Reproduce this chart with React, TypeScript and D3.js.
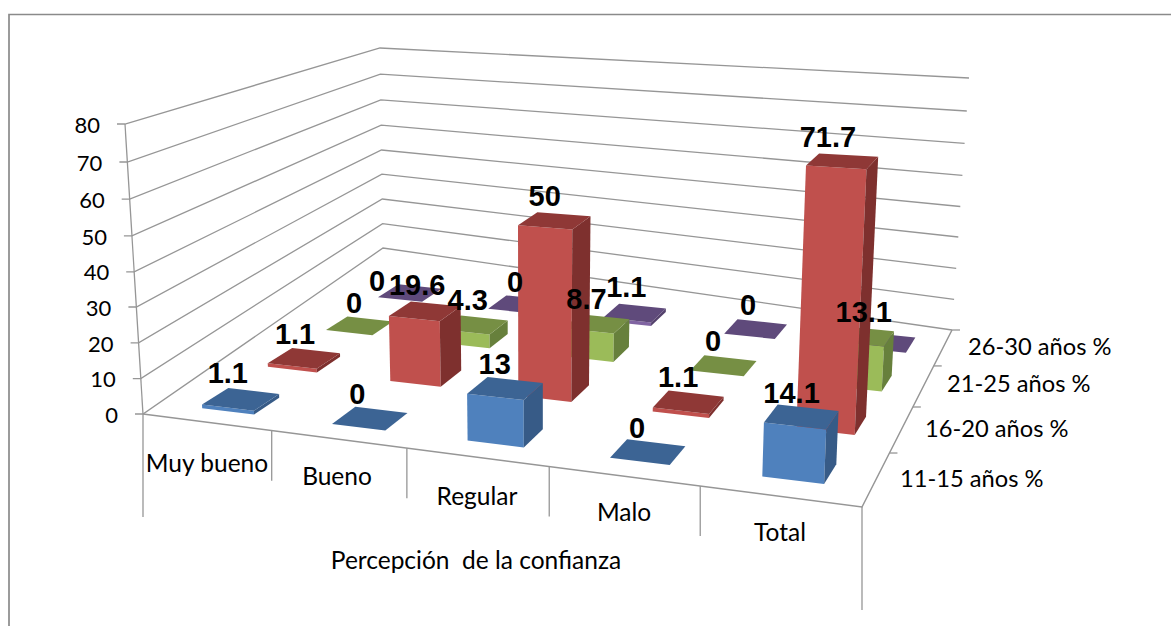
import React from "react";
import * as d3 from "d3";

const categories = ["Muy bueno", "Bueno", "Regular", "Malo", "Total"];
const seriesNames = ["11-15 años %", "16-20 años %", "21-25 años %", "26-30 años %"];
const blueValues = [1.1, 0, 13, 0, 14.1];
const redValues = [1.1, 19.6, 50, 1.1, 71.7];
const greenValues = [0, 4.3, 8.7, 0, 13.1];
const purpleValues = [0, 0, 1.1, 0, 0];
const valueTicks = [0, 10, 20, 30, 40, 50, 60, 70, 80];
const axisTitle = "Percepción  de la confianza";

type Pt = [number, number];

// Screen anchors of the box: the floor quad of the walls and axes.
const floorFL: Pt = [143, 414];
const floorFR: Pt = [862, 507];
const floorBR: Pt = [952, 330];
const floorBL: Pt = [383, 248];

// How far a full-height (80) column reaches from each wall corner.
const riseFL: Pt = [-18, -290];
const riseFR: Pt = [14, -318];
const riseBR: Pt = [17, -252];
const riseBL: Pt = [-3, -200];

// Same reach for columns standing on the floor.
const barRiseFL: Pt = [-18, -280];
const barRiseFR: Pt = [14, -325];
const barRiseBR: Pt = [17, -262];
const barRiseBL: Pt = [-3, -230];

// Centres of the first and fourth bars of the nearest and farthest rows.
const rowFrontFirst: Pt = [241, 403];
const rowFrontFourth: Pt = [647, 452];
const rowBackFourth: Pt = [755, 329];
const rowBackFirst: Pt = [410, 293];

// Foreshortening along the category and series axes.
const uScale = d3.scaleLinear().domain([0, 1, 2, 3, 4, 5]).range([0, 0.179, 0.367, 0.565, 0.775, 1]);
const vScale = d3.scaleLinear().domain([0, 1, 2, 3, 4]).range([0, 0.305, 0.565, 0.797, 1]);
const zScale = d3.scaleLinear().domain(valueTicks).range([0, 0.122, 0.245, 0.369, 0.49, 0.614, 0.741, 0.869, 1]);
const slotScale = d3.scaleLinear().domain([0.5, 1.5, 2.5, 3.5, 4.5]).range([0, 0.316, 0.65, 1, 1.376]);
const rowScale = d3.scaleLinear().domain([0.5, 1.5, 2.5, 3.5]).range([0, 0.38, 0.705, 1]);

const bilinear = (a: Pt, b: Pt, c: Pt, d: Pt, u: number, v: number): Pt => {
  const mix = (k: 0 | 1) => (1 - v) * ((1 - u) * a[k] + u * b[k]) + v * ((1 - u) * d[k] + u * c[k]);
  return [mix(0), mix(1)];
};

// Wall space: category slot, series slot, value -> screen position.
function project(x: number, y: number, value: number): Pt {
  const u = uScale(x), v = vScale(y), z = zScale(value);
  const base = bilinear(floorFL, floorFR, floorBR, floorBL, u, v);
  const rise = bilinear(riseFL, riseFR, riseBR, riseBL, u, v);
  return [base[0] + z * rise[0], base[1] + z * rise[1]];
}

// Bar space: same inputs, on the grid the columns stand on.
function projectBar(x: number, y: number, value: number): Pt {
  const base = bilinear(rowFrontFirst, rowFrontFourth, rowBackFourth, rowBackFirst, slotScale(x), rowScale(y));
  const rise = bilinear(barRiseFL, barRiseFR, barRiseBR, barRiseBL, uScale(x), vScale(y));
  const z = zScale(value);
  return [base[0] + z * rise[0], base[1] + z * rise[1]];
}

const poly = (pts: Pt[]) => pts.map((p) => `${p[0].toFixed(1)},${p[1].toFixed(1)}`).join(" ");

const palette = [
  { front: "#4F81BD", top: "#3C6494", side: "#375B87" },
  { front: "#C0504D", top: "#8F3836", side: "#7E302E" },
  { front: "#9BBB59", top: "#768F44", side: "#67803C" },
  { front: "#8064A2", top: "#5F4A7B", side: "#54416C" },
];
const seriesValues = [blueValues, redValues, greenValues, purpleValues];

const barSize = 0.4;
const labelFont = "'Liberation Sans', Arial, sans-serif";
const axisFont = "Lato, 'Open Sans', sans-serif";
const gridColor = "#969696";

// Where each tier of text sits on the page.
const categoryLabelAnchors: Pt[] = [[207, 466], [337, 479], [477, 499], [624, 515], [780, 535]];
const seriesLabelAnchors: Pt[] = [[900, 481], [925, 431], [947, 386], [968, 349]];

// Hand placement of value labels that would otherwise collide, by "category-series".
const labelNudges: Record<string, Pt> = {
  "0-3": [-23, 12],
  "1-2": [3, -1],
  "1-3": [6, 2],
  "4-2": [12, 0],
  "0-0": [-3, -2],
  "1-0": [-2, 0],
  "0-2": [4, 2],
  "4-1": [-5, 0],
  "1-1": [2, -2],
  "2-3": [2, -2],
  "3-3": [3, 0],
};

function Bar({ i, j, value }: { i: number; j: number; value: number }) {
  const x0 = i + 0.5 - barSize / 2, x1 = i + 0.5 + barSize / 2;
  const y0 = j + 0.5 - barSize / 2, y1 = j + 0.5 + barSize / 2;
  const c = palette[j];
  const fl = projectBar(x0, y0, 0), fr = projectBar(x1, y0, 0), br = projectBar(x1, y1, 0);
  const tfl = projectBar(x0, y0, value), tfr = projectBar(x1, y0, value);
  const tbr = projectBar(x1, y1, value), tbl = projectBar(x0, y1, value);
  return (
    <g>
      {value > 0 && <polygon points={poly([fl, fr, tfr, tfl])} fill={c.front} />}
      {value > 0 && <polygon points={poly([fr, br, tbr, tfr])} fill={c.side} />}
      <polygon points={poly([tfl, tfr, tbr, tbl])} fill={c.top} />
    </g>
  );
}

export default function App() {
  const bars: { i: number; j: number; value: number }[] = [];
  for (let j = seriesNames.length - 1; j >= 0; j--) {
    seriesValues[j].forEach((value, i) => bars.push({ i, j, value }));
  }
  return (
    <svg
      width={1171}
      height={626}
      style={{ position: "absolute", left: 0, top: 0, background: "#fff" }}
    >
      <path d="M9 626V14.5H1171" fill="none" stroke="#8a8a8a" strokeWidth={1.7} />

      {/* walls */}
      {valueTicks.map((t) => {
        const a = project(0, 0, t), b = project(0, seriesNames.length, t);
        const c = project(categories.length, seriesNames.length, t);
        return (
          <g key={t}>
            <polyline points={poly([[a[0] - 8, a[1]], a, b, c])} fill="none" stroke={gridColor} strokeWidth={1.3} />
            <text x={a[0] - 25} y={a[1] + 3} textAnchor="end" dominantBaseline="middle" fontFamily={axisFont} fontSize={22} fill="#000">
              {t}
            </text>
          </g>
        );
      })}
      <polyline points={poly([project(0, 0, 0), project(0, 0, 80)])} fill="none" stroke={gridColor} strokeWidth={1.3} />

      {/* floor edges and category separators */}
      <polyline
        points={poly([project(0, 0, 0), project(categories.length, 0, 0), project(categories.length, seriesNames.length, 0)])}
        fill="none"
        stroke={gridColor}
        strokeWidth={1.5}
      />
      {d3.range(categories.length + 1).map((i) => {
        const p = project(i, 0, 0);
        const outer = i === 0 || i === categories.length;
        return <line key={i} x1={p[0]} y1={p[1]} x2={p[0]} y2={p[1] + (outer ? 103 : 50)} stroke={gridColor} strokeWidth={1.3} />;
      })}
      {d3.range(1, seriesNames.length + 1).map((j) => {
        const p = project(categories.length, j, 0);
        return <line key={j} x1={p[0]} y1={p[1]} x2={p[0] + 8} y2={p[1]} stroke={gridColor} strokeWidth={1.3} />;
      })}

      {bars.map((b) => <Bar key={`${b.i}-${b.j}`} {...b} />)}

      {/* value labels, nearest series on top */}
      {bars.map((b) => {
        if (b.j === 3 && b.i === 4) return null;
        const p = projectBar(b.i + 0.5, b.j + 0.5, b.value);
        const nudge = labelNudges[`${b.i}-${b.j}`] ?? [0, 0];
        return (
          <text key={`l${b.i}-${b.j}`} x={p[0] - 10 + nudge[0]} y={p[1] - 14 + nudge[1]} textAnchor="middle" fontFamily={labelFont} fontWeight="bold" fontSize={29} fill="#000">
            {b.value}
          </text>
        );
      })}

      {categories.map((c, i) => (
        <text key={c} x={categoryLabelAnchors[i][0]} y={categoryLabelAnchors[i][1]} textAnchor="middle" dominantBaseline="middle" fontFamily={axisFont} fontSize={24.5} fill="#000">
          {c}
        </text>
      ))}
      {seriesNames.map((s, j) => (
        <text key={s} x={seriesLabelAnchors[j][0]} y={seriesLabelAnchors[j][1]} dominantBaseline="middle" fontFamily={axisFont} fontSize={23.7} fill="#000">
          {s}
        </text>
      ))}
      <text x={476} y={563} textAnchor="middle" dominantBaseline="middle" fontFamily={axisFont} fontSize={24.5} fill="#000" style={{ whiteSpace: "pre" }}>
        {axisTitle}
      </text>
    </svg>
  );
}
